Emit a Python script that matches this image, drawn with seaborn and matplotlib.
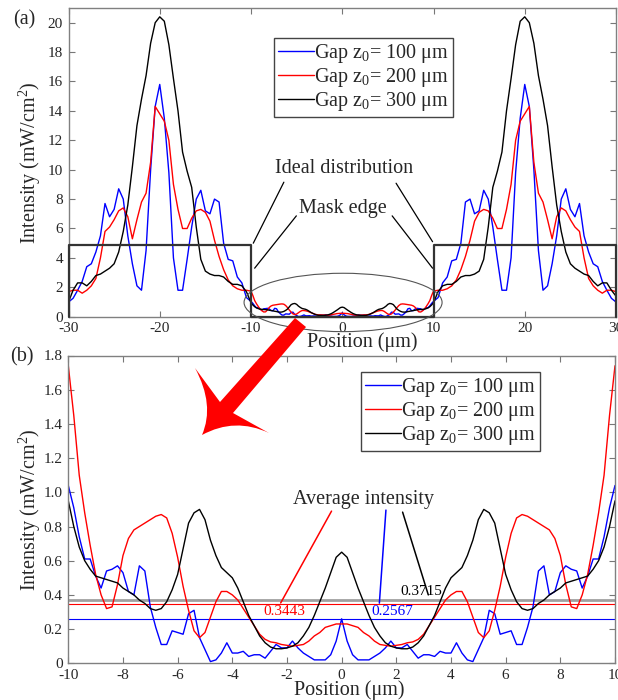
import numpy as np
import pandas as pd
import matplotlib
matplotlib.use('Agg')
import matplotlib.pyplot as plt
import seaborn as sns
from matplotlib.lines import Line2D
from matplotlib.patches import Ellipse, PathPatch
from matplotlib.path import Path

# series names and colours
gap_labels = ['Gap z$_0$= 100 μm', 'Gap z$_0$= 200 μm', 'Gap z$_0$= 300 μm']
gap_colors = ['#0000ff', '#ff0000', '#000000']

# panel (b): zoom of the masked region, -10..10 um every 0.2 um
pos_b = np.round(np.arange(-10, 10.001, 0.2), 1)
blue_b = [1.04, 0.91, 0.74, 0.61, 0.61, 0.51, 0.44, 0.54, 0.55, 0.57,
          0.53, 0.42, 0.40, 0.57, 0.54, 0.33, 0.21, 0.11, 0.11, 0.19,
          0.18, 0.17, 0.29, 0.31, 0.15, 0.08, 0.01, 0.02, 0.06, 0.12,
          0.06, 0.06, 0.07, 0.04, 0.05, 0.05, 0.03, 0.07, 0.11, 0.09,
          0.09, 0.13, 0.09, 0.06, 0.04, 0.02, 0.02, 0.02, 0.05, 0.13,
          0.26,
          0.13, 0.05, 0.02, 0.02, 0.02, 0.04, 0.06, 0.09, 0.13, 0.09,
          0.09, 0.11, 0.07, 0.03, 0.05, 0.05, 0.04, 0.07, 0.06, 0.06,
          0.12, 0.06, 0.02, 0.01, 0.08, 0.15, 0.31, 0.29, 0.17, 0.18,
          0.19, 0.11, 0.11, 0.21, 0.33, 0.54, 0.57, 0.40, 0.42, 0.53,
          0.57, 0.55, 0.54, 0.44, 0.51, 0.61, 0.61, 0.74, 0.91, 1.04]
red_b = [1.74, 1.45, 1.10, 0.88, 0.69, 0.52, 0.40, 0.32, 0.33, 0.46,
         0.63, 0.73, 0.78, 0.80, 0.82, 0.84, 0.86, 0.87, 0.85, 0.76,
         0.62, 0.45, 0.31, 0.19, 0.15, 0.18, 0.27, 0.36, 0.42, 0.42,
         0.40, 0.37, 0.32, 0.27, 0.22, 0.17, 0.14, 0.125, 0.12, 0.11,
         0.105, 0.10, 0.105, 0.11, 0.13, 0.16, 0.18, 0.21, 0.22, 0.23,
         0.23,
         0.23, 0.22, 0.21, 0.18, 0.16, 0.13, 0.11, 0.105, 0.10, 0.105,
         0.11, 0.12, 0.125, 0.14, 0.17, 0.22, 0.27, 0.32, 0.37, 0.40,
         0.42, 0.42, 0.36, 0.27, 0.18, 0.15, 0.19, 0.31, 0.45, 0.62,
         0.76, 0.85, 0.87, 0.86, 0.84, 0.82, 0.80, 0.78, 0.73, 0.63,
         0.46, 0.33, 0.32, 0.40, 0.52, 0.69, 0.88, 1.10, 1.45, 1.74]
black_b = [0.95, 0.80, 0.68, 0.60, 0.55, 0.51, 0.50, 0.49, 0.48, 0.47,
           0.44, 0.42, 0.40, 0.37, 0.35, 0.32, 0.31, 0.32, 0.36, 0.43,
           0.52, 0.67, 0.82, 0.88, 0.90, 0.84, 0.72, 0.63, 0.56, 0.53,
           0.50, 0.44, 0.36, 0.28, 0.22, 0.16, 0.12, 0.095, 0.085, 0.085,
           0.09, 0.10, 0.12, 0.16, 0.21, 0.28, 0.36, 0.44, 0.53, 0.62,
           0.65,
           0.62, 0.53, 0.44, 0.36, 0.28, 0.21, 0.16, 0.12, 0.10, 0.09,
           0.085, 0.085, 0.095, 0.12, 0.16, 0.22, 0.28, 0.36, 0.44, 0.50,
           0.53, 0.56, 0.63, 0.72, 0.84, 0.90, 0.88, 0.82, 0.67, 0.52,
           0.43, 0.36, 0.32, 0.31, 0.32, 0.35, 0.37, 0.40, 0.42, 0.44,
           0.47, 0.48, 0.49, 0.50, 0.51, 0.55, 0.60, 0.68, 0.80, 0.95]

# panel (a): outside the mask edge, every 0.5 um
pos_a_left = np.arange(-30, -10, 0.5)
pos_a_right = np.arange(10.5, 30.01, 0.5)
blue_a_left = [1.0, 1.25, 1.8, 2.4, 3.4, 3.6, 4.4, 5.5, 7.7, 6.8,
               7.3, 8.7, 8.0, 5.5, 3.6, 2.1, 1.8, 4.5, 10.0, 14.3,
               15.8, 13.5, 9.8, 4.0, 1.8, 1.8, 3.9, 6.1, 8.0, 8.6,
               7.2, 7.0, 8.0, 7.8, 5.0, 3.9, 3.8, 2.7, 2.3, 1.3]
blue_a_right = [1.3, 2.3, 2.7, 3.8, 3.9, 5.0, 7.8, 8.0, 7.0, 7.2,
                8.6, 8.0, 6.1, 3.9, 1.8, 1.8, 4.0, 9.8, 13.5, 15.8,
                14.3, 10.0, 4.5, 1.8, 2.1, 3.6, 5.5, 8.0, 8.7, 7.3,
                6.8, 7.7, 5.5, 4.4, 3.6, 3.4, 2.4, 1.8, 1.25, 1.0]
red_a_left = [1.7, 1.8, 1.8, 1.6, 1.8, 2.1, 2.6, 4.0, 5.8, 6.1,
              6.6, 7.2, 7.4, 6.8, 5.3, 6.6, 7.8, 8.4, 10.5, 14.3,
              13.8, 13.3, 12.0, 9.0, 7.3, 6.0, 6.0, 6.7, 7.2, 7.3,
              7.1, 6.5, 5.2, 4.1, 3.2, 2.5, 2.1, 1.9, 1.8, 1.8]
red_a_right = [1.8, 1.8, 1.9, 2.1, 2.5, 3.2, 4.1, 5.2, 6.5, 7.1,
               7.3, 7.2, 6.7, 6.0, 6.0, 7.3, 9.0, 12.0, 13.3, 13.8,
               14.3, 10.5, 8.4, 7.8, 6.6, 5.3, 6.8, 7.4, 7.2, 6.6,
               6.1, 5.8, 4.0, 2.6, 2.1, 1.8, 1.6, 1.8, 1.8, 1.7]
black_a_left = [1.0, 1.8, 2.3, 2.3, 2.1, 2.4, 2.8, 2.9, 3.1, 3.3,
                3.6, 4.4, 5.8, 7.6, 10.2, 13.0, 14.8, 16.4, 18.6, 20.0,
                20.4, 20.1, 18.5, 16.2, 14.0, 11.2, 9.9, 8.8, 6.1, 3.9,
                3.1, 2.9, 2.8, 2.8, 2.7, 2.4, 2.2, 2.2, 2.1, 1.7]
black_a_right = [1.7, 2.1, 2.2, 2.2, 2.4, 2.7, 2.8, 2.8, 2.9, 3.1,
                 3.9, 6.1, 8.8, 9.9, 11.2, 14.0, 16.2, 18.5, 20.1, 20.4,
                 20.0, 18.6, 16.4, 14.8, 13.0, 10.2, 7.6, 5.8, 4.4, 3.6,
                 3.3, 3.1, 2.9, 2.8, 2.4, 2.1, 2.3, 2.3, 1.8, 1.4]

# ideal distribution (step) in panel (a)
ideal_x = [-30, -30, -10, -10, 10, 10, 30, 30]
ideal_y = [0, 4.9, 4.9, 0, 0, 4.9, 4.9, 0]

# average intensities in panel (b)
avg_values = [0.2567, 0.3443, 0.3715]
avg_text = ['0.2567', '0.3443', '0.3715']
avg_colors = ['#0000ff', '#ff0000', '#a0a0a0']
avg_text_colors = ['#0000ff', '#ff0000', '#000000']

sns.set_style('ticks')
plt.rcParams['font.family'] = ['Liberation Serif', 'DejaVu Serif']
plt.rcParams['mathtext.fontset'] = 'custom'
plt.rcParams['mathtext.rm'] = 'Liberation Serif'
plt.rcParams['mathtext.it'] = 'Liberation Serif:italic'
plt.rcParams['mathtext.default'] = 'regular'
plt.rcParams['axes.unicode_minus'] = False

W, H = 618, 700
fig = plt.figure(figsize=(W / 100, H / 100), dpi=100)


def box(l, t, r, b):
    return [l / W, 1 - b / H, (r - l) / W, (b - t) / H]


ax_a = fig.add_axes(box(68.5, 8, 616, 316.7))
ax_b = fig.add_axes(box(68.3, 355.5, 615, 663.3))

palette = dict(zip(gap_labels, gap_colors))

pos_a = np.concatenate([pos_a_left, pos_b, pos_a_right])
df_a = pd.DataFrame({
    'Position': np.tile(pos_a, 3),
    'Intensity': blue_a_left + blue_b + blue_a_right
                 + red_a_left + red_b + red_a_right
                 + black_a_left + black_b + black_a_right,
    'Gap': np.repeat(gap_labels, len(pos_a)),
})
df_b = pd.DataFrame({
    'Position': np.tile(pos_b, 3),
    'Intensity': blue_b + red_b + black_b,
    'Gap': np.repeat(gap_labels, len(pos_b)),
})

sns.lineplot(data=df_a, x='Position', y='Intensity', hue='Gap', palette=palette,
             estimator=None, sort=False, lw=1, ax=ax_a, legend=False)
sns.lineplot(data=df_b, x='Position', y='Intensity', hue='Gap', palette=palette,
             estimator=None, sort=False, lw=1, ax=ax_b, legend=False)

big = 14.5
small = 11

# ---- panel (a) decorations
ax_a.plot(ideal_x, ideal_y, color='#333333', lw=1.6, clip_on=False, zorder=5)
ax_a.add_patch(Ellipse((0.09, 0.97), 21.7, 3.97, fill=False, ec='#555555',
                       lw=0.8, clip_on=False, zorder=6))
ax_a.text(0.18, 10.1, 'Ideal distribution', ha='center', va='center', fontsize=big)
ax_a.text(0.09, 7.38, 'Mask edge', ha='center', va='center', fontsize=big)
ax_a.plot([-6.4, -9.75], [9.15, 5.0], color='k', lw=0.9)
ax_a.plot([5.9, 9.9], [9.08, 5.1], color='k', lw=0.9)
ax_a.plot([-5.03, -9.6], [6.86, 3.3], color='k', lw=0.9)
ax_a.plot([5.47, 9.9], [6.86, 3.3], color='k', lw=0.9)

# ---- panel (b) decorations
for v, c in zip(avg_values, avg_colors):
    ax_b.axhline(v, color=c, lw=2.0 if c == '#a0a0a0' else 0.8, zorder=1)
ax_b.text(0.79, 0.96, 'Average intensity', ha='center', va='center', fontsize=big)
ax_b.plot([1.62, 1.38], [0.896, 0.352], color='#0000ff', lw=1.1)
ax_b.plot([-0.37, -2.23], [0.89, 0.353], color='#ff0000', lw=1.1)
ax_b.plot([2.23, 3.17], [0.884, 0.40], color='k', lw=1.1)
ax_b.text(1.87, 0.302, avg_text[0], color=avg_text_colors[0], ha='center',
          va='center', fontsize=small)
ax_b.text(-2.10, 0.302, avg_text[1], color=avg_text_colors[1], ha='center',
          va='center', fontsize=small)
ax_b.text(2.92, 0.417, avg_text[2], color=avg_text_colors[2], ha='center',
          va='center', fontsize=small)

# axes formatting
ax_a.set_xlim(-30, 30)
ax_a.set_ylim(0, 21)
ax_a.set_xticks(range(-30, 31, 10))
ax_a.set_yticks(range(0, 21, 2))
ax_b.set_xlim(-10, 10)
ax_b.set_ylim(0, 1.8)
ax_b.set_xticks(range(-10, 11, 2))
ax_b.set_yticks(np.arange(0, 1.81, 0.2))
ax_b.set_yticklabels(['0'] + ['%.1f' % v for v in np.arange(0.2, 1.81, 0.2)])

for ax in (ax_a, ax_b):
    ax.tick_params(direction='in', top=True, right=True, length=4, width=0.8,
                   color='#777777', labelsize=small, pad=4)
    for s in ax.spines.values():
        s.set_color('#808080')
        s.set_linewidth(1.0)
    ax.set_xlabel('Position (μm)', fontsize=big)
    ax.set_ylabel('Intensity (mW/cm$^2$)', fontsize=big)
    ax.yaxis.set_label_coords(-0.047, 0.5)
    ax.xaxis.label.set_verticalalignment('top')
    ax.set_facecolor('white')

# x labels sit a bit right of centre in the reference
ax_a.xaxis.set_label_coords(0.536, -0.05)
ax_b.xaxis.set_label_coords(0.513, -0.056)

handles = [Line2D([], [], color=c, lw=1) for c in gap_colors]
leg_kw = dict(loc='upper left', borderaxespad=0, fontsize=big, frameon=True,
              fancybox=False, framealpha=1, edgecolor='#444444',
              handlelength=1.8, handletextpad=0.0, borderpad=0.2,
              labelspacing=0.05)
leg_a = ax_a.legend(handles, gap_labels, bbox_to_anchor=(0.375, 0.903), **leg_kw)
leg_b = ax_b.legend(handles, gap_labels, bbox_to_anchor=(0.535, 0.946), **leg_kw)
for leg in (leg_a, leg_b):
    leg.get_frame().set_linewidth(1.0)

fig.text(24 / W, 1 - 20 / H, '(a)', ha='center', va='center', fontsize=big)
fig.text(22 / W, 1 - 357 / H, '(b)', ha='center', va='center', fontsize=big)

# big red arrow from the ellipse in (a) down into (b), pixel coordinates
arrow_px = [(295, 318), (220, 402), (195, 368), (215, 405), (202, 435),
            (235, 417), (269, 433), (233, 413), (306, 327), (295, 318)]
arrow_codes = [Path.MOVETO, Path.LINETO, Path.LINETO, Path.CURVE3, Path.CURVE3,
               Path.CURVE3, Path.CURVE3, Path.LINETO, Path.LINETO, Path.CLOSEPOLY]
arrow_path = Path([(x / W, 1 - y / H) for x, y in arrow_px], arrow_codes)
fig.add_artist(PathPatch(arrow_path, transform=fig.transFigure, fc='#ff0000',
                         ec='none', zorder=10))

fig.savefig('out.png', dpi=100)
